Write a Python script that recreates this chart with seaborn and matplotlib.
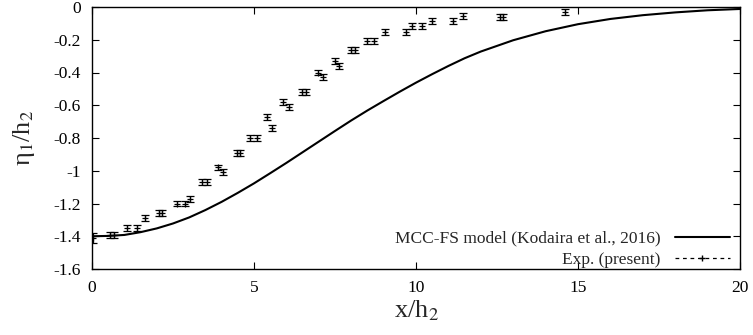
import numpy as np
import pandas as pd
import seaborn as sns
import matplotlib.pyplot as plt
from matplotlib.lines import Line2D

# model curve
model_x = [0, 0.5, 1, 1.5, 2, 2.5, 3, 3.5, 4, 4.5, 5, 5.5, 6, 6.5, 7, 7.5, 8, 8.5, 9, 9.5,
           10, 10.5, 11, 11.5, 12, 13, 14, 15, 16, 17, 18, 19, 20]
model_y = [-1.400, -1.398, -1.392, -1.375, -1.352, -1.322, -1.285, -1.240, -1.190, -1.135,
           -1.077, -1.015, -0.952, -0.887, -0.822, -0.757, -0.693, -0.632, -0.574, -0.517,
           -0.462, -0.410, -0.360, -0.313, -0.272, -0.203, -0.148, -0.105, -0.073, -0.050,
           -0.033, -0.020, -0.012]

# experiment
exp_x = [0.03, 0.56, 0.68, 1.07, 1.38, 1.64, 2.07, 2.16, 2.61, 2.87, 3.02, 3.39, 3.54,
         3.88, 4.03, 4.47, 4.57, 4.88, 5.08, 5.39, 5.55, 5.9, 6.08, 6.47, 6.6, 6.98, 7.13,
         7.5, 7.62, 7.98, 8.12, 8.5, 8.7, 9.04, 9.7, 9.87, 10.19, 10.5, 11.15, 11.46,
         12.6, 12.7, 14.6]
exp_y = [-1.41, -1.39, -1.39, -1.35, -1.35, -1.29, -1.26, -1.26, -1.20, -1.20, -1.17, -1.07, -1.07,
         -0.98, -1.01, -0.89, -0.89, -0.80, -0.80, -0.67, -0.74, -0.58, -0.61, -0.52, -0.52, -0.40, -0.43,
         -0.33, -0.36, -0.26, -0.26, -0.21, -0.21, -0.15, -0.15, -0.115, -0.115, -0.085, -0.085, -0.055,
         -0.06, -0.06, -0.03]
exp_err = [0.03, 0.018, 0.018, 0.018, 0.018, 0.018, 0.018, 0.018, 0.018, 0.018, 0.018, 0.018, 0.018,
           0.018, 0.018, 0.018, 0.018, 0.018, 0.018, 0.018, 0.018, 0.018, 0.018, 0.018, 0.018, 0.018, 0.018,
           0.018, 0.018, 0.018, 0.018, 0.018, 0.018, 0.018, 0.018, 0.018, 0.018, 0.018, 0.018, 0.018,
           0.018, 0.018, 0.018]

x_ticks = [0, 5, 10, 15, 20]
y_ticks = [0, -0.2, -0.4, -0.6, -0.8, -1, -1.2, -1.4, -1.6]
y_ticklabels = ["0", "-0.2", "-0.4", "-0.6", "-0.8", "-1", "-1.2", "-1.4", "-1.6"]

df_model = pd.DataFrame({"x": model_x, "y": model_y})

sns.set_style("ticks")
plt.rcParams["font.family"] = ["Liberation Serif", "DejaVu Serif"]
plt.rcParams["mathtext.fontset"] = "stix"

fig = plt.figure(figsize=(7.53, 3.35), dpi=100)
ax = fig.add_axes([92 / 753, 1 - 269 / 335, 648 / 753, 262 / 335])

sns.lineplot(data=df_model, x="x", y="y", color="black", linewidth=1.5, ax=ax)
ax.errorbar(exp_x, exp_y, yerr=exp_err, fmt="+", color="black", markersize=4,
            elinewidth=0.9, capsize=3, capthick=0.9, markeredgewidth=0.9)

ax.set_xlim(0, 20)
ax.set_ylim(-1.6, 0)
ax.set_xticks(x_ticks)
ax.set_yticks(y_ticks)
ax.set_yticklabels(y_ticklabels)
ax.tick_params(direction="in", top=True, right=True, length=5, width=0.8, labelsize=12.5,
               colors="black", pad=8)
for sp in ax.spines.values():
    sp.set_linewidth(1.0)
    sp.set_color("black")

ax.set_xlabel("x/h$_2$", fontsize=19, labelpad=2)
ax.set_ylabel("η$_1$/h$_2$", fontsize=19, labelpad=12)

handles = [Line2D([], [], color="black", lw=1.5),
           Line2D([], [], color="black", lw=0.9, ls=(0, (3, 3)), marker="+", markersize=5)]
labels = ["MCC-FS model (Kodaira et al., 2016)", "Exp. (present)"]
ax.legend(handles, labels, loc="lower right", frameon=False, markerfirst=False,
          fontsize=12.5, handlelength=3.2, labelspacing=0.3, borderaxespad=0.0,
          handletextpad=0.8, bbox_to_anchor=(1 - 3 / 648, -6 / 262))

fig.savefig("out.png", dpi=100)
